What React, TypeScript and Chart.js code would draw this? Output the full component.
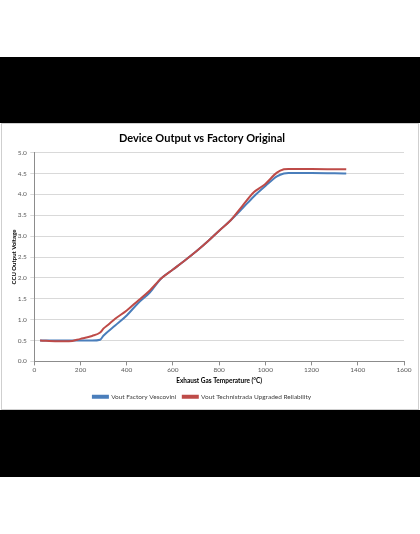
import React, { useEffect, useRef } from 'react';
import { Chart, registerables } from 'chart.js';

Chart.register(...registerables);

const chartTitle = 'Device Output vs Factory Original';
const xTitle = 'Exhaust Gas Temperature (°C)';
const yTitle = 'CCU Output Voltage';
const blueLabel = 'Vout Factory Vescovini';
const redLabel = 'Vout Technistrada Upgraded Reliability';

const blueX = [25, 100, 200, 250, 285, 300, 350, 400, 450, 500, 550, 600, 650, 700, 750, 800, 850, 900, 950, 1000, 1050, 1080, 1100, 1200, 1350];
const blueY = [0.5, 0.5, 0.5, 0.5, 0.52, 0.62, 0.86, 1.1, 1.4, 1.65, 1.99, 2.2, 2.41, 2.63, 2.87, 3.13, 3.38, 3.66, 3.95, 4.2, 4.43, 4.5, 4.51, 4.51, 4.5];
const redX = [25, 100, 150, 200, 250, 285, 300, 320, 350, 400, 450, 500, 550, 600, 650, 700, 750, 800, 850, 900, 950, 975, 1000, 1050, 1080, 1100, 1200, 1350];
const redY = [0.5, 0.48, 0.48, 0.54, 0.61, 0.69, 0.79, 0.88, 1.02, 1.22, 1.46, 1.7, 1.99, 2.2, 2.41, 2.63, 2.87, 3.13, 3.38, 3.72, 4.05, 4.15, 4.25, 4.52, 4.6, 4.61, 4.61, 4.6];

const FONT = 'Lato, "Open Sans", sans-serif';

export default function App() {
  const ref = useRef<HTMLCanvasElement | null>(null);

  useEffect(() => {
    if (!ref.current) return;
    const chart = new Chart(ref.current, {
      type: 'scatter',
      data: {
        datasets: [
          {
            label: blueLabel,
            data: blueX.map((x, i) => ({ x, y: blueY[i] })),
            showLine: true,
            borderColor: '#4a7ebb',
            backgroundColor: '#4a7ebb',
            borderWidth: 2,
            pointRadius: 0,
            cubicInterpolationMode: 'monotone',
            order: 1,
          },
          {
            label: redLabel,
            data: redX.map((x, i) => ({ x, y: redY[i] })),
            showLine: true,
            borderColor: '#be4b48',
            backgroundColor: '#be4b48',
            borderWidth: 2,
            pointRadius: 0,
            cubicInterpolationMode: 'monotone',
            order: 0,
          },
        ],
      },
      options: {
        responsive: false,
        animation: false,
        devicePixelRatio: 1,
        layout: { padding: { left: 0, right: 16, top: 0, bottom: 0 } },
        plugins: {
          title: {
            display: true,
            text: chartTitle,
            color: '#000',
            font: { family: FONT, size: 11, weight: 'bold' },
            padding: { top: 8.4, bottom: 8 },
          },
          legend: {
            position: 'bottom',
            labels: {
              sort: (a: any, b: any) => a.datasetIndex - b.datasetIndex,
              boxWidth: 15,
              boxHeight: 2,
              padding: 6.6,
              color: '#404040',
              font: { family: FONT, size: 6.5 },
            },
          },
          tooltip: { enabled: false },
        },
        scales: {
          x: {
            type: 'linear',
            min: 0,
            max: 1600,
            ticks: {
              stepSize: 200,
              color: '#595959',
              font: { family: FONT, size: 6.5 },
              padding: 1,
              callback: (v: any) => String(v),
            },
            grid: { drawOnChartArea: false, drawTicks: true, tickLength: 4, color: '#8c8c8c' },
            border: { color: '#8c8c8c' },
            title: {
              display: true,
              text: xTitle,
              color: '#000',
              font: { family: FONT, size: 6.5, weight: 'bold' },
              padding: { top: 0, bottom: 2 },
            },
            afterFit: (s: any) => {
              s.height = 25.5;
            },
          },
          y: {
            type: 'linear',
            min: 0,
            max: 5,
            ticks: {
              stepSize: 0.5,
              color: '#595959',
              font: { family: FONT, size: 6.5 },
              padding: 3.5,
              callback: (v: any) => Number(v).toFixed(1),
            },
            grid: { color: '#d9d9d9', tickLength: 4 },
            border: { color: '#8c8c8c' },
            title: {
              display: true,
              text: yTitle,
              color: '#000',
              font: { family: FONT, size: 6, weight: 'bold' },
              padding: { top: 10, bottom: 0 },
            },
            afterFit: (s: any) => {
              s.width = 34.3;
            },
          },
        },
      },
    } as any);
    return () => chart.destroy();
  }, []);

  return (
    <div style={{ position: 'absolute', left: 0, top: 0, width: 420, height: 534, background: '#fff', overflow: 'hidden' }}>
      <div style={{ position: 'absolute', left: 0, top: 57, width: 420, height: 66, background: '#000' }} />
      <div
        style={{
          position: 'absolute',
          left: 1,
          top: 123,
          width: 418,
          height: 287,
          boxSizing: 'border-box',
          border: '1px solid #cfcfcf',
          background: '#fff',
        }}
      />
      <canvas
        ref={ref}
        width={420}
        height={287}
        style={{ position: 'absolute', left: 0, top: 123, width: 420, height: 287 }}
      />
      <div style={{ position: 'absolute', left: 0, top: 410, width: 420, height: 67, background: '#000' }} />
    </div>
  );
}
